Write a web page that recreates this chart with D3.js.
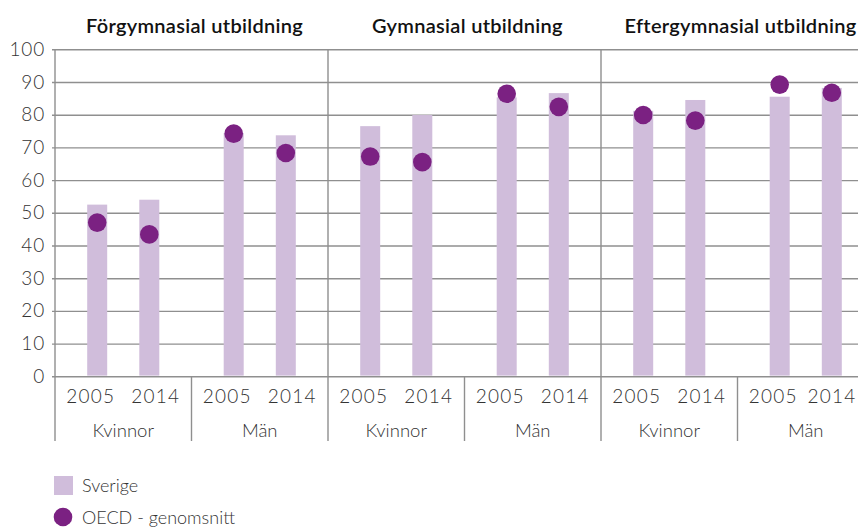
<!DOCTYPE html>
<html>
<head>
<meta charset="utf-8">
<script src="https://cdn.jsdelivr.net/npm/d3@7"></script>
<style>
  html, body { margin: 0; padding: 0; background: #fff; }
  svg { display: block; }
  text { font-family: Lato, "Open Sans", "DejaVu Sans", sans-serif; }
</style>
</head>
<body>
<svg id="chart" width="858" height="527"></svg>
<script>
// ---- Data ----
const panels = ["Förgymnasial utbildning", "Gymnasial utbildning", "Eftergymnasial utbildning"];
const genders = ["Kvinnor", "Män"];
const years = ["2005", "2014"];
// order: panel -> gender -> year
const sverigeValues = [52.5, 54.0, 74.4, 73.7, 76.5, 79.9, 85.3, 86.6, 81.2, 84.5, 85.5, 88.2];
const oecdValues    = [47.0, 43.4, 74.2, 68.3, 67.2, 65.5, 86.4, 82.4, 79.9, 78.2, 89.2, 86.7];
const yTicks = [0, 10, 20, 30, 40, 50, 60, 70, 80, 90, 100];
const legendLabels = ["Sverige", "OECD - genomsnitt"];

const rows = [];
panels.forEach((p, pi) => genders.forEach((g, gi) => years.forEach((yr, yi) => {
  const i = pi * 4 + gi * 2 + yi;
  rows.push({ panel: p, gender: g, year: yr, sverige: sverigeValues[i], oecd: oecdValues[i] });
})));

// ---- Layout ----
const W = 858, H = 527;
const mLeft = 55, panelW = 273, mTop = 49.3, mBottom = 376.3, axisBottom = 441;
const barColor = "#d0bddb", dotColor = "#7b2182", gridColor = "#8f8f8f", textColor = "#333";

const svg = d3.select("#chart");

const xPanel = d3.scaleBand().domain(panels).range([mLeft, mLeft + 3 * panelW]);
const xGroup = d3.scaleBand().domain(genders).range([0, panelW]);
const xBar = d3.scalePoint().domain(years).range([0, xGroup.bandwidth()]).padding(0.81);
const xLabel = d3.scalePoint().domain(years).range([0, xGroup.bandwidth()]).padding(0.55);
const y = d3.scaleLinear().domain([0, 100]).range([mBottom, mTop]);

const xPos = d => xPanel(d.panel) + xGroup(d.gender) + xBar(d.year);

// Grid + y labels via axis
const yAxis = d3.axisLeft(y).tickValues(yTicks).tickSize(-(W - mLeft)).tickPadding(10);
const gy = svg.append("g").attr("transform", `translate(${mLeft},0)`).call(yAxis);
gy.select(".domain").remove();
gy.selectAll(".tick line").attr("stroke", gridColor).attr("stroke-width", 1.4).attr("x1", -3);
gy.selectAll(".tick text")
  .attr("fill", textColor).attr("font-size", 19).attr("font-weight", 300)
  .attr("letter-spacing", 0.8)
  .attr("font-family", "Lato, 'Open Sans', sans-serif");

// Vertical lines: left axis and panel dividers
svg.append("g").selectAll("line")
  .data(panels)
  .join("line")
  .attr("x1", d => xPanel(d)).attr("x2", d => xPanel(d))
  .attr("y1", mTop).attr("y2", axisBottom)
  .attr("stroke", gridColor).attr("stroke-width", 1.4);

// Group dividers below axis
svg.append("g").selectAll("line")
  .data(panels)
  .join("line")
  .attr("x1", d => xPanel(d) + xGroup("Män")).attr("x2", d => xPanel(d) + xGroup("Män"))
  .attr("y1", mBottom).attr("y2", axisBottom)
  .attr("stroke", gridColor).attr("stroke-width", 1.4);

// Bars
const barW = 20;
svg.append("g").selectAll("rect")
  .data(rows)
  .join("rect")
  .attr("x", d => xPos(d) - barW / 2)
  .attr("width", barW)
  .attr("y", d => y(d.sverige))
  .attr("height", d => y(0) - y(d.sverige) - 0.7)
  .attr("fill", barColor);

// Dots
svg.append("g").selectAll("circle")
  .data(rows)
  .join("circle")
  .attr("cx", d => xPos(d))
  .attr("cy", d => y(d.oecd))
  .attr("r", 9.3)
  .attr("fill", dotColor);

// Panel titles
svg.append("g").selectAll("text")
  .data(panels)
  .join("text")
  .attr("x", d => xPanel(d) + panelW / 2 + 3)
  .attr("y", 33)
  .attr("text-anchor", "middle")
  .attr("font-size", 20)
  .attr("font-weight", 600)
  .attr("letter-spacing", 0.3)
  .attr("fill", "#111")
  .text(d => d);

// Year labels
const groupsAll = [];
panels.forEach(p => genders.forEach(g => groupsAll.push({ panel: p, gender: g })));
const yearLabels = [];
groupsAll.forEach(gr => years.forEach(yr => yearLabels.push({ ...gr, year: yr })));
svg.append("g").selectAll("text")
  .data(yearLabels)
  .join("text")
  .attr("x", d => Math.min(xPanel(d.panel) + xGroup(d.gender) + xLabel(d.year), W - 26))
  .attr("y", 403)
  .attr("text-anchor", "middle")
  .attr("font-size", 19)
  .attr("font-weight", 300)
  .attr("letter-spacing", 1.2)
  .attr("fill", textColor)
  .text(d => d.year);

// Gender labels
svg.append("g").selectAll("text")
  .data(groupsAll)
  .join("text")
  .attr("x", d => xPanel(d.panel) + xGroup(d.gender) + xGroup.bandwidth() / 2)
  .attr("y", 437)
  .attr("text-anchor", "middle")
  .attr("font-size", 18.5)
  .attr("font-weight", 300)
  .attr("fill", textColor)
  .text(d => d.gender);

// Legend
const lg = svg.append("g");
lg.append("rect").attr("x", 54).attr("y", 476).attr("width", 19).attr("height", 19).attr("fill", barColor);
lg.append("circle").attr("cx", 63).attr("cy", 517).attr("r", 9.3).attr("fill", dotColor);
lg.selectAll("text")
  .data(legendLabels)
  .join("text")
  .attr("x", 82)
  .attr("y", (d, i) => 492 + i * 32)
  .attr("font-size", 18)
  .attr("font-weight", 300)
  .attr("fill", textColor)
  .text(d => d);
</script>
</body>
</html>
